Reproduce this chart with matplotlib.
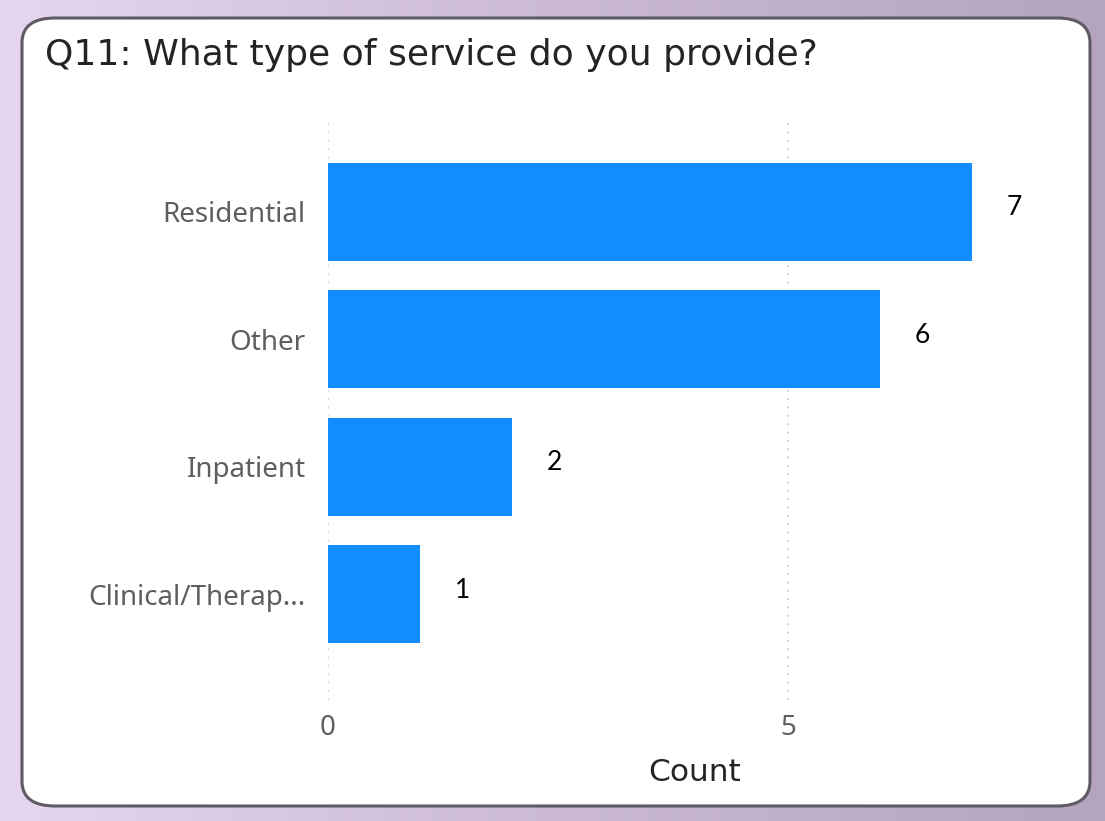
import matplotlib
matplotlib.use("Agg")
import numpy as np
import matplotlib.pyplot as plt
from matplotlib.colors import LinearSegmentedColormap
from matplotlib.patches import FancyBboxPatch

# --- Data ---
categories = ["Residential", "Other", "Inpatient", "Clinical/Therap..."]
counts = [7, 6, 2, 1]
x_ticks = [0, 5]

BAR_COLOR = "#118DFF"
TEXT_GRAY = "#605E5C"
TITLE_COLOR = "#252423"
LABEL_FONT = "Noto Sans"

fig = plt.figure(figsize=(11.05, 8.21), dpi=100)

# lavender backdrop, lighter on the left, darker to the right
bg = fig.add_axes([0, 0, 1, 1], zorder=-2)
bg_cmap = LinearSegmentedColormap.from_list("bg", ["#E6D6F2", "#CBB9D5", "#B4A4BE"])
bg.imshow(np.linspace(0, 1, 256).reshape(1, -1), cmap=bg_cmap,
          aspect="auto", extent=[0, 1, 0, 1])
bg.set_axis_off()

# card with rounded border
card = FancyBboxPatch(
    (22 / 1105, 1 - 806 / 821), (1090 - 22) / 1105, (806 - 18) / 821,
    boxstyle="round,pad=0,rounding_size=0.03",
    transform=fig.transFigure, facecolor="white",
    edgecolor="#5F5A63", linewidth=2.2,
)
bg.add_artist(card)

fig.text(45 / 1105, 1 - 55 / 821, "Q11: What type of service do you provide?",
         fontsize=26, color=TITLE_COLOR, va="center", ha="left")

ax = fig.add_axes([328 / 1105, 1 - 700 / 821, (1000 - 328) / 1105, 580 / 821])
ax.set_facecolor("none")

y = list(range(len(categories)))
ax.barh(y, counts, height=0.77, color=BAR_COLOR, zorder=2)

for yi, c in zip(y, counts):
    ax.text(c + 0.46, yi - 0.03, str(c), fontsize=19, color="black",
            va="center", ha="center", family="Lato")

ax.set_xlim(0, (1000 - 328) / 92)
ax.set_ylim(3.83, -0.72)
ax.set_yticks(y)
ax.set_yticklabels(categories, fontsize=20, color=TEXT_GRAY, family=LABEL_FONT)
ax.set_xticks(x_ticks)
ax.set_xticklabels([str(t) for t in x_ticks], fontsize=20, color=TEXT_GRAY,
                   family=LABEL_FONT)
ax.tick_params(axis="both", length=0)
ax.tick_params(axis="y", pad=16)
ax.tick_params(axis="x", pad=10)

for xt in x_ticks:
    ax.axvline(xt, color="#C8C6C4", linestyle=(0, (1, 4)), linewidth=1.2, zorder=1)

for s in ax.spines.values():
    s.set_visible(False)

fig.text(695 / 1105, 1 - 772 / 821, "Count", fontsize=22.5, color=TITLE_COLOR,
         ha="center", va="center")

plt.savefig("out.png", dpi=100)
